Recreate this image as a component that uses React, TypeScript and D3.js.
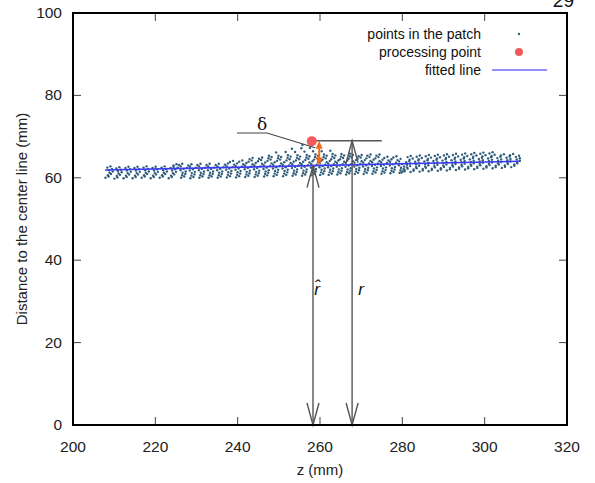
import React from "react";
import * as d3 from "d3";

// ---- data ----
const xTicks = [200, 220, 240, 260, 280, 300, 320];
const yTicks = [0, 20, 40, 60, 80, 100];

// scan stripes of the point cloud: centre z, lowest and highest distance (mm)
const stripeZ = [208.5, 210.7, 212.9, 215.1, 217.3, 219.5, 221.7, 223.9, 226.1, 228.3, 230.5, 232.7, 234.9, 237.1, 239.3, 241.5, 243.7, 245.9, 248.1, 250.3, 252.5, 254.7, 256.9, 259.1, 261.3, 263.5, 265.7, 267.9, 270.1, 272.3, 274.5, 276.7, 278.9, 281.1, 283.3, 285.5, 287.7, 289.9, 292.1, 294.3, 296.5, 298.7, 300.9, 303.1, 305.3, 307.5];
const stripeLo = [60.0, 59.8, 59.9, 59.9, 60.0, 59.9, 60.0, 59.9, 60.0, 59.9, 60.0, 60.0, 60.0, 60.1, 60.1, 60.2, 60.2, 60.3, 60.4, 60.4, 60.5, 60.5, 60.6, 60.7, 60.7, 60.8, 60.8, 60.9, 60.9, 61.0, 61.0, 61.1, 61.2, 61.3, 61.4, 61.5, 61.6, 61.7, 61.8, 61.9, 62.0, 62.1, 62.2, 62.3, 62.4, 62.6];
const stripeHi = [62.6, 62.8, 62.7, 62.8, 62.8, 62.9, 63.0, 63.0, 63.1, 63.2, 63.3, 63.4, 63.5, 63.7, 63.9, 64.2, 64.6, 65.2, 65.8, 66.4, 67.0, 67.5, 68.0, 67.6, 67.0, 66.6, 66.3, 66.0, 65.7, 65.5, 65.4, 65.4, 65.5, 65.6, 65.7, 65.7, 65.8, 65.9, 66.0, 66.0, 66.0, 66.1, 66.0, 65.9, 65.8, 65.6];

// fitted line end points
const fitZ = [207.8, 308.6];
const fitR = [61.9, 64.0];

// processing point
const procZ = 258.0;
const procR = 68.9;

// r-hat and r arrows
const rHatZ = 258.3;
const rZ = 267.8;
const rTop = 69.0;
const rLineEnd = 275.0;
const deltaZ = 259.8;

const legendLabels = ["points in the patch", "processing point", "fitted line"];

// wiggle pattern of dots inside one scan stripe (z offset, mm)
const wiggle = [-0.45, 0.05, 0.4, 0.15, -0.3, 0.3];

const W = 595;
const H = 483;
const font = "'Liberation Sans', Arial, sans-serif";

export default function App() {
  const x = d3.scaleLinear().domain([200, 320]).range([73, 567]);
  const y = d3.scaleLinear().domain([0, 100]).range([425, 13]);
  const fit = d3.scaleLinear().domain(fitZ).range(fitR);

  // build point cloud from stripes
  const pts: [number, number][] = [];
  stripeZ.forEach((z, i) => {
    const lo = stripeLo[i];
    const hi = stripeHi[i];
    const mid = (lo + hi) / 2;
    const tilt = z < 224 ? 0.12 : z < 280 ? -0.4 : 0.4;
    const core = fit(z) + 2.4;
    let v = lo;
    let k = 0;
    while (v <= hi + 1e-6) {
      const off = (v - mid) * tilt + wiggle[k % wiggle.length];
      pts.push([z + off, v]);
      if (v < core) pts.push([z + off + 0.75, v + 0.3]);
      k++;
      v += v < core ? 0.62 : 0.8;
    }
  });

  const line = d3
    .line<number>()
    .x((d) => x(d))
    .y((d) => y(fit(d)));

  const gray = "#555";
  const arrowHead = (cx: number, cy: number, dir: number) => (
    <path
      d={`M${cx - 6},${cy + dir * 22} L${cx},${cy} L${cx + 6},${cy + dir * 22}`}
      fill="none"
      stroke={gray}
      strokeWidth={1.4}
    />
  );

  const xr = x(rHatZ);
  const xR = x(rZ);
  const yFitAtRhat = y(fit(rHatZ));
  const yTop = y(rTop);
  const xd = x(deltaZ);
  const yDeltaBot = y(fit(deltaZ));

  return (
    <svg
      width={W}
      height={H}
      style={{ position: "absolute", left: 0, top: 0, background: "#fff" }}
      fontFamily={font}
    >
      <rect width={W} height={H} fill="#fff" />
      {/* page number (cut at the page top as in the source) */}
      <text x={574} y={7} textAnchor="end" fontSize={19} fill="#111">
        29
      </text>

      {/* ticks */}
      {xTicks.slice(1, -1).map((t) => (
        <g key={"xt" + t}>
          <line x1={x(t)} x2={x(t)} y1={y(0)} y2={y(0) - 8} stroke="#444" strokeWidth={1} />
          <line x1={x(t)} x2={x(t)} y1={y(100)} y2={y(100) + 8} stroke="#444" strokeWidth={1} />
        </g>
      ))}
      {yTicks.slice(1, -1).map((t) => (
        <g key={"yt" + t}>
          <line x1={x(200)} x2={x(200) + 8} y1={y(t)} y2={y(t)} stroke="#444" strokeWidth={1} />
          <line x1={x(320)} x2={x(320) - 8} y1={y(t)} y2={y(t)} stroke="#444" strokeWidth={1} />
        </g>
      ))}
      {xTicks.map((t) => (
        <text key={"xl" + t} x={x(t)} y={452} textAnchor="middle" fontSize={15.5} fill="#222">
          {t}
        </text>
      ))}
      {yTicks.map((t) => (
        <text key={"yl" + t} x={62} y={y(t) + 5} textAnchor="end" fontSize={15.5} fill="#222">
          {t}
        </text>
      ))}
      <text x={320} y={475} textAnchor="middle" fontSize={15} fill="#222">
        z (mm)
      </text>
      <text
        transform={`translate(27,219) rotate(-90)`}
        textAnchor="middle"
        fontSize={15}
        fill="#222"
      >
        Distance to the center line (mm)
      </text>

      {/* point cloud */}
      <g fill="#2f5d7b">
        {pts.map((p, i) => (
          <circle key={i} cx={x(p[0])} cy={y(p[1])} r={1.2} />
        ))}
      </g>

      {/* fitted line */}
      <path d={line(fitZ) || ""} stroke="#3a3af2" strokeWidth={1.6} fill="none" />

      {/* r-hat arrow */}
      <line x1={xr} x2={xr} y1={y(0)} y2={yFitAtRhat} stroke={gray} strokeWidth={1.4} />
      {arrowHead(xr, y(0), -1)}
      {arrowHead(xr, yFitAtRhat, 1)}
      {/* r arrow */}
      <line x1={xR} x2={xR} y1={y(0)} y2={yTop} stroke={gray} strokeWidth={1.4} />
      {arrowHead(xR, y(0), -1)}
      {arrowHead(xR, yTop, 1)}
      <line x1={xr} x2={x(rLineEnd)} y1={yTop} y2={yTop} stroke={gray} strokeWidth={1.4} />
      <text x={xr + 4} y={y(31.5)} fontSize={17} fontStyle="italic" textAnchor="middle" fill="#111">
        {"r\u0302"}
      </text>
      <text x={xR + 9} y={y(31.5)} fontSize={17} fontStyle="italic" textAnchor="middle" fill="#111">
        r
      </text>

      {/* delta leader */}
      <path d={`M237,133 L267,133 L${xd - 4},${yTop + 7}`} fill="none" stroke="#444" strokeWidth={1.2} />
      <text x={262} y={130} fontSize={17} textAnchor="middle" fill="#111" fontFamily="'DejaVu Serif', serif">
        δ
      </text>

      {/* processing point */}
      <circle cx={x(procZ)} cy={y(procR)} r={5} fill="#f05a5a" />

      {/* delta double arrow */}
      <line x1={xd} x2={xd} y1={yTop + 6} y2={yDeltaBot - 6} stroke="#f26a1b" strokeWidth={2} />
      <path d={`M${xd - 3.5},${yTop + 8} L${xd},${yTop} L${xd + 3.5},${yTop + 8} Z`} fill="#f26a1b" />
      <path d={`M${xd - 3.5},${yDeltaBot - 8} L${xd},${yDeltaBot} L${xd + 3.5},${yDeltaBot - 8} Z`} fill="#f26a1b" />

      {/* frame */}
      <rect
        x={x(200)}
        y={y(100)}
        width={x(320) - x(200)}
        height={y(0) - y(100)}
        fill="none"
        stroke="#000"
        strokeWidth={2}
      />

      {/* legend */}
      {legendLabels.map((l, i) => (
        <text key={l} x={481} y={39 + i * 18} textAnchor="end" fontSize={14} fill="#111">
          {l}
        </text>
      ))}
      <circle cx={519} cy={34} r={1.2} fill="#2f5d7b" />
      <circle cx={519} cy={52} r={4} fill="#f05a5a" />
      <line x1={492} x2={547} y1={70} y2={70} stroke="#6b6bff" strokeWidth={1.5} />
    </svg>
  );
}
